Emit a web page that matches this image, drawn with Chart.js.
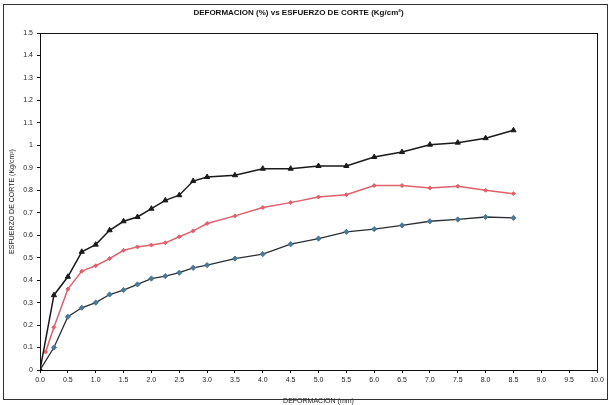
<!DOCTYPE html>
<html>
<head>
<meta charset="utf-8">
<style>
    html, body { margin: 0; padding: 0; background: #fff; }
    #wrap { width: 613px; height: 405px; }
</style>
</head>
<body>
<div id="wrap"><canvas id="chart" width="613" height="405"></canvas></div>

<script src="https://cdn.jsdelivr.net/npm/chart.js@4/dist/chart.umd.min.js"></script>
<script>

    // deformation steps (mm)
    const deformacion = [0, 0.25, 0.5, 0.75, 1.0, 1.25, 1.5, 1.75, 2.0, 2.25, 2.5, 2.75, 3.0,
        3.5, 4.0, 4.5, 5.0, 5.5, 6.0, 6.5, 7.0, 7.5, 8.0, 8.5];
    const deformacionRoja = [0.1, 0.25, 0.5, 0.75, 1.0, 1.25, 1.5, 1.75, 2.0, 2.25, 2.5, 2.75, 3.0,
        3.5, 4.0, 4.5, 5.0, 5.5, 6.0, 6.5, 7.0, 7.5, 8.0, 8.5];

    // esfuerzo de corte (Kg/cm2) per specimen
    const esfuerzoNegro = [0, 0.333, 0.415, 0.526, 0.558, 0.622, 0.662, 0.681, 0.718, 0.755, 0.778, 0.841, 0.859,
        0.867, 0.896, 0.896, 0.908, 0.908, 0.948, 0.970, 1.003, 1.012, 1.032, 1.067];
    const esfuerzoRojo = [0.08, 0.19, 0.36, 0.44, 0.464, 0.496, 0.533, 0.548, 0.556, 0.566, 0.593, 0.619, 0.652,
        0.686, 0.723, 0.745, 0.770, 0.780, 0.821, 0.821, 0.810, 0.818, 0.800, 0.785];
    const esfuerzoAzul = [0, 0.10, 0.237, 0.277, 0.300, 0.336, 0.356, 0.381, 0.407, 0.418, 0.433, 0.455, 0.467,
        0.496, 0.516, 0.560, 0.585, 0.615, 0.627, 0.644, 0.662, 0.670, 0.681, 0.677];

    const xTicks = [0, 0.5, 1, 1.5, 2, 2.5, 3, 3.5, 4, 4.5, 5, 5.5, 6, 6.5, 7, 7.5, 8, 8.5, 9, 9.5, 10];
    const yTicks = [0, 0.1, 0.2, 0.3, 0.4, 0.5, 0.6, 0.7, 0.8, 0.9, 1, 1.1, 1.2, 1.3, 1.4, 1.5];

    const FONT = '"Liberation Sans Narrow", "Liberation Sans", Arial, sans-serif';

    function pares(xs, ys) {
        return xs.map((x, i) => ({x: x, y: ys[i]}));
    }

    // box around plot area and whole sheet
    const marcos = {
        id: 'marcos',
        afterDraw(chart) {
            const ctx = chart.ctx;
            const a = chart.chartArea;
            ctx.save();
            ctx.strokeStyle = '#111';
            ctx.lineWidth = 1;
            ctx.strokeRect(Math.round(a.left) + 0.5, Math.round(a.top) + 0.5,
                Math.round(a.right - a.left), Math.round(a.bottom - a.top));
            ctx.strokeStyle = '#333';
            ctx.strokeRect(3.5, 4.5, 604, 395);
            ctx.restore();
        }
    };

    new Chart(document.getElementById('chart'), {
        type: 'line',
        data: {
            datasets: [
                {
                    data: pares(deformacion, esfuerzoNegro),
                    borderColor: '#1a1a1a',
                    backgroundColor: '#1a1a1a',
                    borderWidth: 1.5,
                    pointStyle: 'triangle',
                    pointRadius: 3,
                    pointBorderWidth: 1
                },
                {
                    data: pares(deformacionRoja, esfuerzoRojo),
                    borderColor: '#e0606c',
                    backgroundColor: '#e0606c',
                    borderWidth: 1.5,
                    pointStyle: 'rectRot',
                    pointRadius: 2,
                    pointBorderWidth: 1
                },
                {
                    data: pares(deformacion, esfuerzoAzul),
                    borderColor: '#2a2f35',
                    backgroundColor: '#4a7898',
                    pointBorderColor: '#4a7898',
                    borderWidth: 1.3,
                    pointStyle: 'rectRot',
                    pointRadius: 2.6,
                    pointBorderWidth: 1
                }
            ]
        },
        options: {
            responsive: false,
            animation: false,
            layout: {padding: {left: 0, right: 16, top: 0, bottom: 0}},
            plugins: {
                legend: {display: false},
                tooltip: {enabled: false},
                title: {
                    display: true,
                    text: 'DEFORMACION (%) vs ESFUERZO DE CORTE (Kg/cm²)',
                    color: '#111',
                    font: {family: FONT, size: 8, weight: 'bold', lineHeight: 1},
                    padding: {top: 9, bottom: 16}
                }
            },
            scales: {
                x: {
                    type: 'linear',
                    min: 0,
                    max: 10,
                    afterBuildTicks(axis) { axis.ticks = xTicks.map(v => ({value: v})); },
                    afterFit(axis) { axis.height = 35; },
                    ticks: {
                        color: '#222',
                        font: {family: FONT, size: 7},
                        padding: 3,
                        maxRotation: 0,
                        autoSkip: false,
                        callback: v => v.toFixed(1)
                    },
                    grid: {display: true, drawOnChartArea: false, tickLength: 3, color: '#111'},
                    border: {display: true, color: '#111'},
                    title: {
                        display: true,
                        text: 'DEFORMACION (mm)',
                        color: '#222',
                        font: {family: FONT, size: 7},
                        padding: {top: 0, bottom: 0}
                    }
                },
                y: {
                    type: 'linear',
                    min: 0,
                    max: 1.5,
                    afterBuildTicks(axis) { axis.ticks = yTicks.map(v => ({value: v})); },
                    afterFit(axis) { axis.width = 40; },
                    ticks: {
                        color: '#222',
                        font: {family: FONT, size: 7},
                        padding: 4,
                        autoSkip: false,
                        callback: v => String(Number(v.toFixed(1)))
                    },
                    grid: {display: true, drawOnChartArea: false, tickLength: 3, color: '#111'},
                    border: {display: true, color: '#111'},
                    title: {
                        display: true,
                        text: 'ESFUERZO DE CORTE (Kg/cm²)',
                        color: '#222',
                        font: {family: FONT, size: 7},
                        padding: {top: 8, bottom: 0}
                    }
                }
            }
        },
        plugins: [marcos]
    });

</script>
</body>
</html>
